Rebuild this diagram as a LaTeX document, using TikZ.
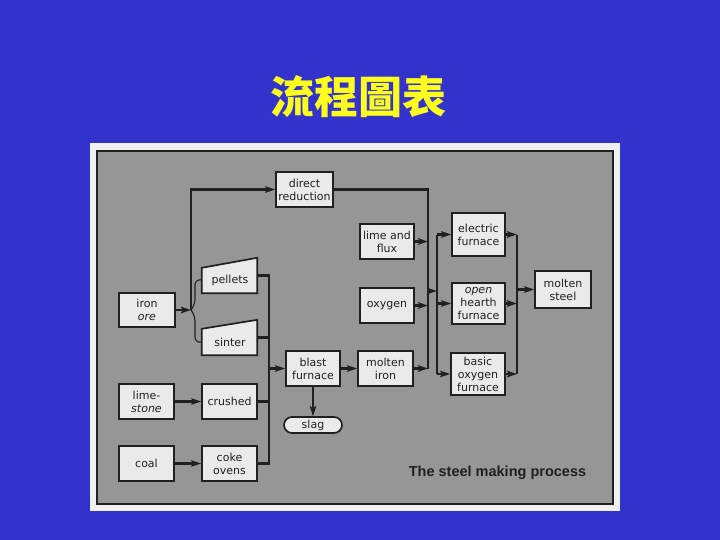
\documentclass[tikz,border=0pt]{standalone}
\usepackage{fontspec}
\setmainfont{DejaVu Sans}
\newfontfamily\capfont{Liberation Sans}
\newfontfamily\cjk{Noto Sans CJK TC}
\usetikzlibrary{arrows.meta}
\definecolor{bgblue}{RGB}{51,51,204}
\definecolor{paneledge}{RGB}{240,240,240}
\definecolor{panelgray}{RGB}{150,150,150}
\definecolor{boxfill}{RGB}{234,234,234}
\definecolor{inkcol}{RGB}{32,32,32}
\definecolor{titleyellow}{RGB}{255,255,30}
\tikzset{
  box/.style={draw=inkcol, fill=boxfill, line width=1.7pt, inner sep=0pt, align=center,
    font=\fontsize{11}{13}\selectfont, text=inkcol},
  trapbox/.style={draw=none, inner sep=0pt, minimum width=55pt, minimum height=35pt},
  trapline/.style={draw=inkcol, fill=boxfill, line width=1.7pt},
  conn/.style={draw=inkcol, line width=2.4pt},
  thinconn/.style={draw=inkcol, line width=1.1pt, rounded corners=6pt},
  arr/.style={conn, -{Stealth[length=10pt,width=6.5pt,inset=2pt]}},
  lbl/.style={inner sep=0pt, align=center, font=\fontsize{11}{13}\selectfont, text=inkcol}
}
\begin{document}
\begin{tikzpicture}[x=1pt,y=-1pt]
\path[fill=bgblue] (0,0) rectangle (720,540);
\useasboundingbox (0,0) rectangle (720,540);
% title
\node[text=titleyellow, font=\cjk\bfseries\fontsize{44}{44}\selectfont] (title) at (358,97) {流程圖表};
% panel
\path[fill=paneledge] (90,143) rectangle (620,511);
\path[fill=panelgray, draw=inkcol, line width=1.8pt] (97,151) rectangle (613,504);

% nodes
\node[box, minimum width=57pt, minimum height=35pt] (dr) at (304.5,189.5) {direct\\reduction};
\node[box, minimum width=56pt, minimum height=34pt] (ore) at (147,310) {iron\\\textit{ore}};
\node[trapbox] (pellets) at (229.5,275.5) {};
\draw[trapline] (pellets.south west) -- (pellets.south east) -- (pellets.north east) -- ([yshift=-10pt]pellets.north west) -- cycle;
\node[lbl] (pelletsT) at (230,280) {pellets};
\node[trapbox] (sinter) at (229.5,337.5) {};
\draw[trapline] (sinter.south west) -- (sinter.south east) -- (sinter.north east) -- ([yshift=-9pt]sinter.north west) -- cycle;
\node[lbl] (sinterT) at (230,342) {sinter};
\node[box, minimum width=55pt, minimum height=35pt] (lime) at (146.5,401.5) {lime-\\\textit{stone}};
\node[box, minimum width=55pt, minimum height=35pt] (crushed) at (229.5,401.5) {crushed};
\node[box, minimum width=55pt, minimum height=35pt] (coal) at (146.5,463.5) {coal};
\node[box, minimum width=55pt, minimum height=35pt] (coke) at (229.5,463.5) {coke\\ovens};
\node[box, minimum width=54pt, minimum height=35pt] (blast) at (313,368.5) {blast\\furnace};
\node[box, minimum width=58pt, minimum height=16pt, rounded corners=8pt] (slag) at (313,425) {slag};
\node[box, minimum width=54pt, minimum height=35pt] (flux) at (387,241.5) {lime and\\flux};
\node[box, minimum width=54pt, minimum height=35pt] (oxy) at (387,305.5) {oxygen};
\node[box, minimum width=55pt, minimum height=35pt] (iron) at (385.5,368.5) {molten\\iron};
\node[box, minimum width=53pt, minimum height=43pt] (ef) at (478.5,234.5) {electric\\furnace};
\node[box, minimum width=53pt, minimum height=41pt] (oh) at (478.5,303.5) {\textit{open}\\hearth\\furnace};
\node[box, minimum width=54pt, minimum height=42pt] (bof) at (478,374) {basic\\oxygen\\furnace};
\node[box, minimum width=56pt, minimum height=37pt] (steel) at (563,289.5) {molten\\steel};
\node[text=inkcol, font=\capfont\bfseries\fontsize{14.5}{16}\selectfont, inner sep=0pt] (cap) at (497.5,473) {The steel making process};

% connectors
\coordinate (j1) at (191,310);
\draw[arr] (ore.east) -- (j1);
\draw[arr] (j1) |- (dr.west);
\draw[thinconn] (j1) -- (195,305) -- (195,279) -- (pelletsT.west -| pellets.west);
\draw[thinconn] (j1) -- (195,315) -- (195,343) -- (sinterT.west -| sinter.west);

\coordinate (b1bot) at (269,463.5);
\draw[conn] (pellets.east) -| (b1bot) -- (coke.east);
\draw[conn] (sinter.east) -- (sinter.east -| b1bot);
\draw[conn] (crushed.east) -- (crushed.east -| b1bot);
\draw[arr] (blast.west -| b1bot) -- (blast.west);
\draw[arr] (lime.east) -- (crushed.west);
\draw[arr] (coal.east) -- (coke.west);
\draw[arr] (blast.east) -- (iron.west);
\draw[arr] (blast.south) -- (slag.north);

\coordinate (b2bot) at (428,368.5);
\draw[conn] (dr.east) -| (b2bot);
\draw[arr] (iron.east) -- (b2bot);
\draw[arr] (flux.east) -- (flux.east -| b2bot);
\draw[arr] (oxy.east) -- (oxy.east -| b2bot);

\coordinate (b3top) at (437,234.5);
\coordinate (b3bot) at (437,374);
\coordinate (j2a) at (428,291);
\draw[arr] (j2a) -- (j2a -| b3top);
\draw[conn] (b3top) -- (b3bot);
\draw[arr] (b3top) -- (ef.west);
\draw[arr] (oh.west -| b3top) -- (oh.west);
\draw[arr] (b3bot) -- (bof.west);

\coordinate (b4top) at (517,234.5);
\coordinate (b4bot) at (517,374);
\draw[conn] (b4top) -- (b4bot);
\draw[arr] (ef.east) -- (b4top);
\draw[arr] (oh.east) -- (oh.east -| b4top);
\draw[arr] (bof.east) -- (b4bot);
\draw[arr] (steel.west -| b4top) -- (steel.west);
\end{tikzpicture}
\end{document}
